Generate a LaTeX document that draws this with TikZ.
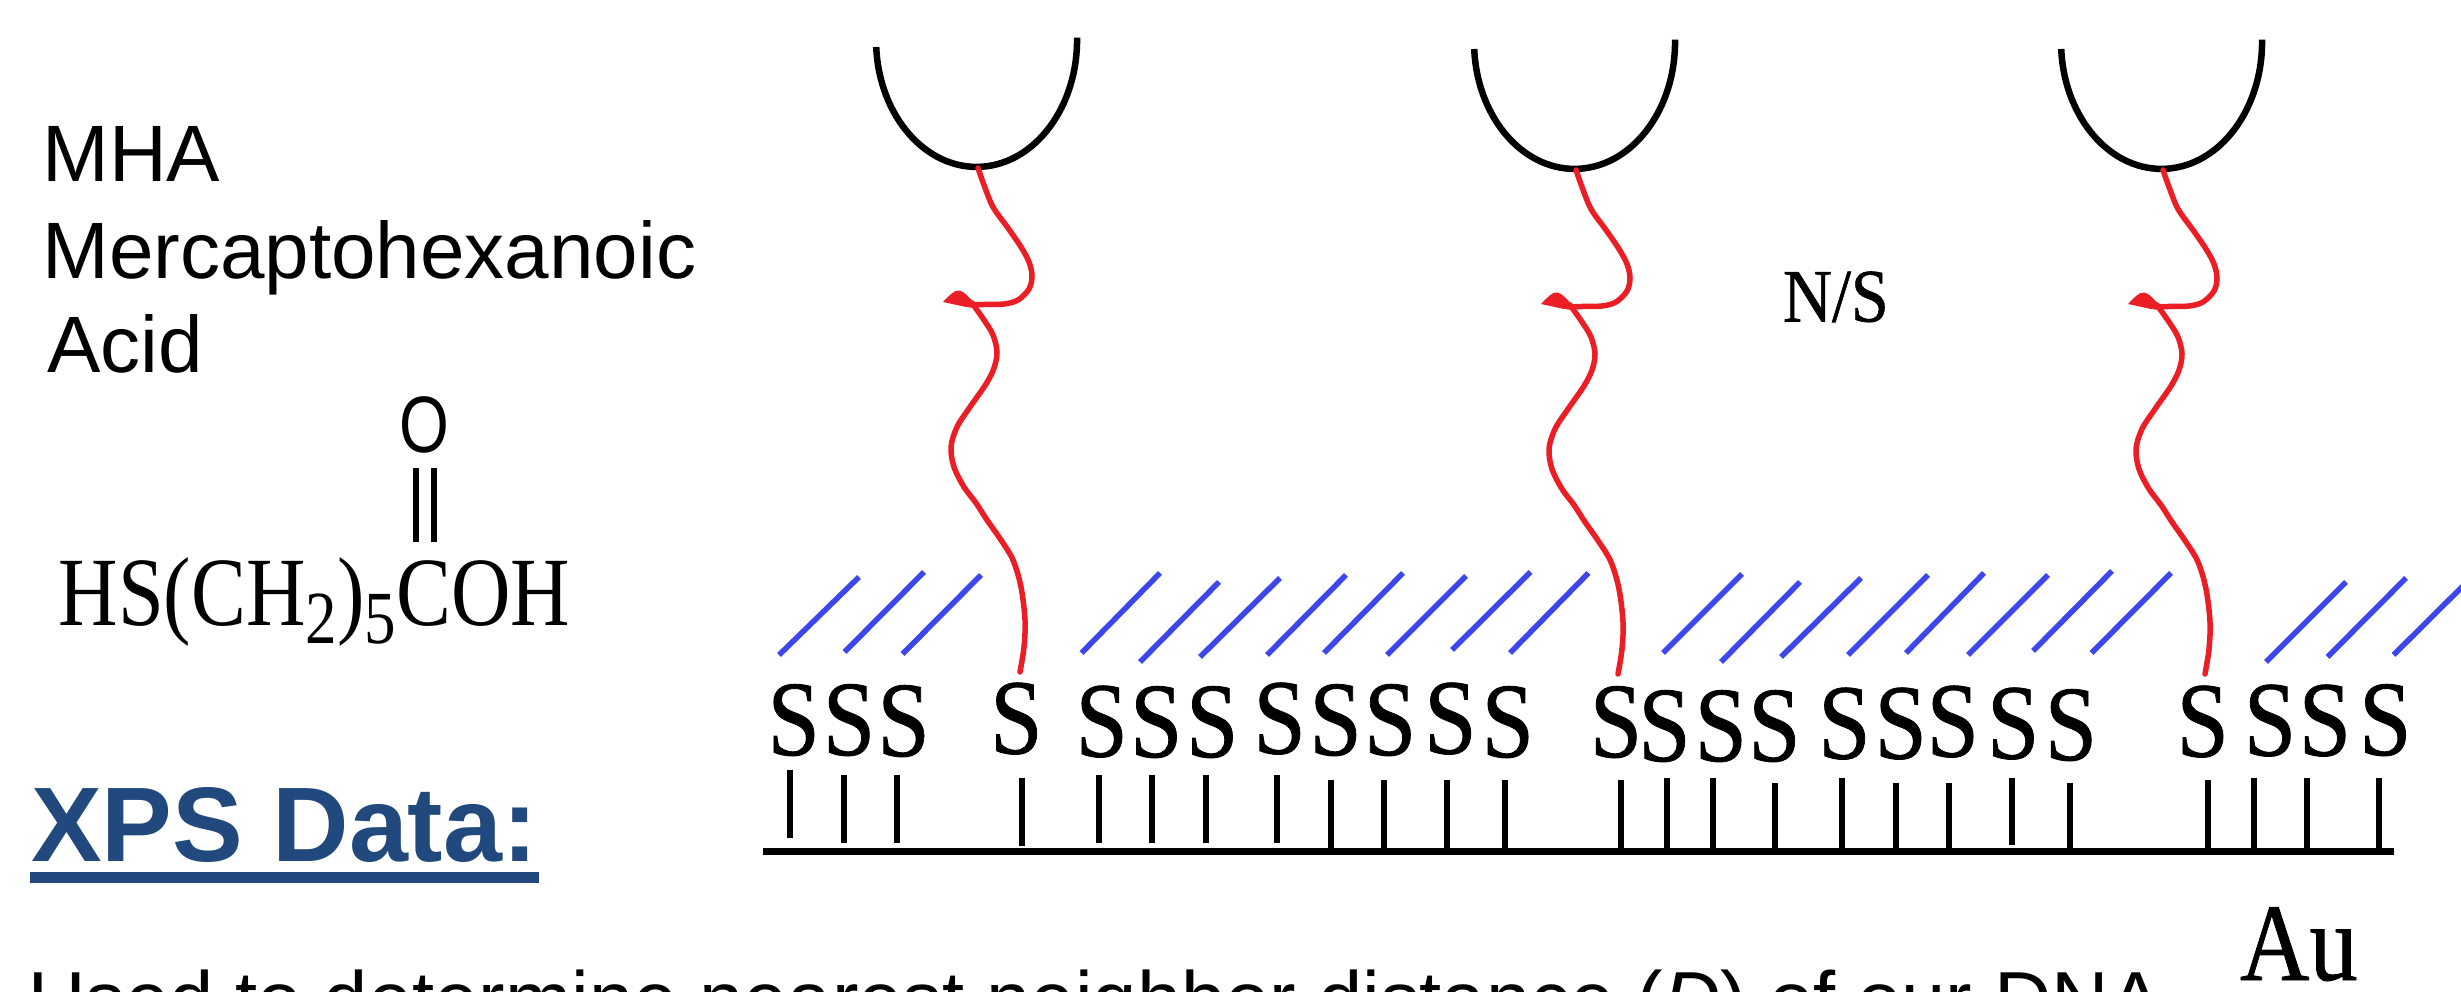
\documentclass[tikz,border=0pt]{standalone}
\usepackage{fontspec}
\setmainfont{Liberation Serif}
\newfontfamily\arialfont{Liberation Sans}
\newfontfamily\atomfont[FakeBold=0.8]{Liberation Serif}
\definecolor{xpsblue}{RGB}{33,73,125}
\definecolor{chainred}{RGB}{234,30,36}
\definecolor{mhablue}{RGB}{60,70,234}
\newcommand{\hsq}[2]{\scalebox{#1}[1]{#2}}

\begin{document}
\begin{tikzpicture}[x=1pt,y=-1pt,
  txt/.style={inner sep=0pt, outer sep=0pt, anchor=base west},
  sanstext/.style={txt, font=\arialfont\fontsize{80}{96}\selectfont},
  sletter/.style={inner sep=0pt, outer sep=0pt, anchor=base, font=\atomfont\fontsize{107}{107}\selectfont},
  thiol/.style={line width=5.5pt, black},
  surface/.style={line width=7pt, black},
  mhaline/.style={line width=5.5pt, mhablue},
  cup/.style={line width=6.5pt, black},
  strand/.style={line width=5.5pt, chainred, line cap=round, line join=round},
]
\useasboundingbox (0,0) rectangle (2461,992);
\clip (0,0) rectangle (2461,992);

% ---- left column: molecule description ----
\node[sanstext] (mha) at (42.5,182) {MHA};
\node[sanstext] (mercapto) at (42.5,278.5) {Mercaptohexanoic};
\node[sanstext] (acid) at (47,373) {Acid};

% carbonyl oxygen and double bond
\node[inner sep=0pt, anchor=base, font=\arialfont\fontsize{80}{80}\selectfont] (oxy) at (424,452.3) {\hsq{0.8}{O}};
\draw[line width=6pt] (416.3,468) -- (416.3,542);
\draw[line width=6pt] (434.2,468) -- (434.2,542);

% condensed formula
\node[txt, font=\fontsize{98}{98}\selectfont] (formula) at (58.7,625)
  {\hsq{0.84}{HS(CH\raisebox{-18pt}{\fontsize{75}{75}\selectfont 2})\raisebox{-18pt}{\fontsize{75}{75}\selectfont 5}COH}};

% heading
\node[txt, font=\arialfont\bfseries\fontsize{106}{106}\selectfont, text=xpsblue] (xps) at (31,861) {XPS Data:};
\fill[xpsblue] (30,872) rectangle (539,883);

% body line
\node[txt, font=\arialfont\fontsize{79.5}{80}\selectfont] (used) at (28,1027)
  {Used to determine nearest neighbor distance (\textit{D}) of our DNA};

% ---- gold surface ----
\draw[surface] (763,851) -- (2394,851);

% Au--S bonds
\foreach \tx/\ta/\tb in {790/770/838, 844/775/843, 897/775/843, 1022/778/846,
  1099/775/843, 1152/775/843, 1206/775/843, 1277/775/843, 1331/780/849,
  1384/780/849, 1447/780/849, 1505/780/849, 1621/780/849, 1667/778/849,
  1713/778/849, 1775/783/849, 1842/778/849, 1896/783/849, 1949/783/849,
  2012/778/845, 2070/783/849, 2208/780/849, 2254/778/849, 2307/778/849,
  2379/778/849}
  \draw[thiol] (\tx,\ta) -- (\tx,\tb);

% sulfur atoms
\foreach \sx/\sy [count=\i] in {793.7/755, 849/755, 903.6/756, 1016.4/753.5,
  1101.7/756.5, 1156.2/757, 1212.2/757, 1279.6/753.5, 1335.6/755, 1390.1/755,
  1450.4/753.5, 1507.8/757, 1616/757, 1664.5/761, 1720.8/761, 1774.4/761,
  1844.4/758.5, 1900.7/758.5, 1952.8/756.5, 2013.2/758.5, 2070.9/760,
  2202.7/756.5, 2270/755.5, 2324.9/755.5, 2385.3/755}
  \node[sletter] (s\i) at (\sx,\sy) {\hsq{0.88}{S}};

% MHA chains
\foreach \xa/\ya/\xb/\yb in {779/655/859/577, 844.5/652/924/572, 902.5/654/981/575,
  1081.5/653/1160/573, 1140/662/1219/582, 1200/657/1280/578, 1267/655/1346/575,
  1324/653/1403/573, 1387/655/1466/576, 1452/650/1530.5/572, 1510/653/1588.5/573,
  1663/653/1742/574, 1721/662/1800/582, 1781/657/1861/578, 1848/655/1928/575,
  1906/653/1984/573, 1968/655/2048/575, 2033/651/2112/571, 2091.5/653/2171/573,
  2266/662/2346/582, 2327.5/657/2406/578, 2393.5/655/2473/576}
  \draw[mhaline] (\xa,\ya) -- (\xb,\yb);

% DNA strands tethered to particles
\foreach \dx/\dy in {0/0, 598/2, 1185/2} {
  \begin{scope}[shift={(\dx,\dy)}]
    \draw[cup] (876.2,47) arc[start angle=176.8, end angle=-1, x radius=100.5, y radius=127];
    \draw[strand] plot[smooth, tension=0.55] coordinates {(978,168) (984,185) (993,207)
      (1008,228) (1021,247) (1029,262) (1032,276) (1029,289) (1018,300) (1004,304) (984,304.5) (970,305)};
    \fill[chainred] (943,302) .. controls (949,296) and (954,290) .. (959,290.5)
      .. controls (964,291) and (968,297) .. (977,305) -- (966,307) -- cycle;
    \draw[strand] plot[smooth, tension=0.55] coordinates {(972,303) (984,320) (993,335)
      (997,352) (994,368) (986,384) (970,407) (957,427) (951,447) (954,467) (964,487)
      (976,503) (987,520) (1001,540) (1013,560) (1021,587) (1025,620) (1024,647) (1020,672)};
  \end{scope}
}

% labels in the diagram
\node[txt, font=\atomfont\fontsize{75.5}{75.5}\selectfont] (ns) at (1783,321.5) {\hsq{0.9}{N/S}};
\node[txt, font=\atomfont\fontsize{110}{110}\selectfont] (au) at (2240,980) {\hsq{0.875}{Au}};
\end{tikzpicture}
\end{document}
